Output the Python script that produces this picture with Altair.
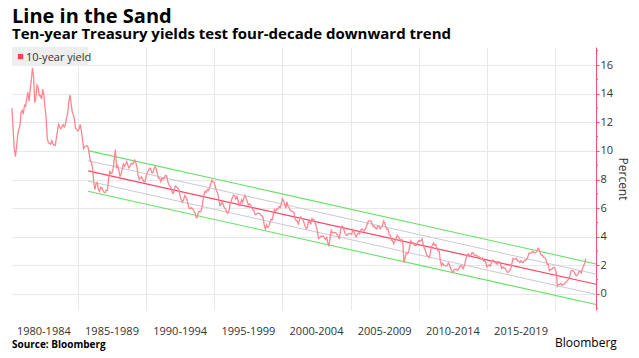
import altair as alt
import pandas as pd

# ---- 10-year Treasury yield, monthly (percent) ----
y1980 = [13.0, 11.47, 10.18, 9.60, 10.25, 11.10, 11.51, 11.75, 12.68, 12.84]  # from March
y1981 = [12.57, 13.19, 13.12, 13.68, 14.10, 13.47, 14.28, 14.94, 15.80, 15.15, 13.39, 13.72]
y1982 = [14.59, 14.43, 13.86, 13.87, 13.62, 14.30, 13.95, 13.06, 12.34, 10.91, 10.55, 10.54]
y1983 = [10.46, 10.72, 10.51, 10.40, 10.38, 10.85, 11.38, 11.85, 11.65, 11.54, 11.69, 11.83]
y1984 = [11.67, 11.84, 12.32, 12.63, 13.41, 13.90, 13.36, 12.72, 12.52, 12.16, 11.57, 11.50]
y1985 = [11.38, 11.51, 11.86, 11.43, 10.85, 10.16, 10.31, 10.33, 10.37, 10.24, 9.78, 9.26]
y1986 = [9.19, 8.70, 7.78, 7.30, 7.71, 7.80, 7.30, 7.17, 7.45, 7.43, 7.25, 7.11]
y1987 = [7.08, 7.25, 7.25, 8.02, 8.61, 8.40, 8.45, 8.76, 9.42, 10.10, 8.86, 8.99]
y1988 = [8.67, 8.21, 8.37, 8.72, 9.09, 8.92, 9.06, 9.26, 8.98, 8.80, 8.96, 9.11]
y1989 = [9.09, 9.17, 9.36, 9.18, 8.86, 8.28, 8.02, 8.11, 8.19, 8.01, 7.87, 7.84]
y1990 = [8.21, 8.47, 8.59, 8.79, 8.76, 8.48, 8.47, 8.75, 8.89, 8.72, 8.39, 8.08]
y1991 = [8.09, 7.85, 8.11, 8.04, 8.07, 8.28, 8.27, 7.90, 7.65, 7.53, 7.42, 7.09]
y1992 = [7.03, 7.34, 7.54, 7.48, 7.39, 7.26, 6.84, 6.59, 6.42, 6.59, 6.87, 6.77]
y1993 = [6.60, 6.26, 5.98, 5.97, 6.04, 5.96, 5.81, 5.68, 5.36, 5.33, 5.72, 5.77]
y1994 = [5.75, 5.97, 6.48, 6.97, 7.18, 7.10, 7.30, 7.24, 7.46, 7.74, 7.96, 7.81]
y1995 = [7.78, 7.47, 7.20, 7.06, 6.63, 6.17, 6.28, 6.49, 6.20, 6.04, 5.93, 5.71]
y1996 = [5.65, 5.81, 6.27, 6.51, 6.74, 6.91, 6.87, 6.64, 6.83, 6.53, 6.20, 6.30]
y1997 = [6.58, 6.42, 6.69, 6.89, 6.71, 6.49, 6.22, 6.30, 6.21, 6.03, 5.88, 5.81]
y1998 = [5.54, 5.57, 5.65, 5.64, 5.65, 5.50, 5.46, 5.34, 4.81, 4.53, 4.83, 4.65]
y1999 = [4.72, 5.00, 5.23, 5.18, 5.54, 5.90, 5.79, 5.94, 5.92, 6.11, 6.03, 6.28]
y2000 = [6.66, 6.52, 6.26, 5.99, 6.44, 6.10, 6.05, 5.83, 5.80, 5.74, 5.72, 5.24]
y2001 = [5.16, 5.10, 4.89, 5.14, 5.39, 5.28, 5.24, 4.97, 4.73, 4.57, 4.65, 5.09]
y2002 = [5.04, 4.91, 5.28, 5.21, 5.16, 4.93, 4.65, 4.26, 3.87, 3.94, 4.05, 4.03]
y2003 = [4.05, 3.90, 3.81, 3.96, 3.57, 3.33, 3.98, 4.45, 4.27, 4.29, 4.30, 4.27]
y2004 = [4.15, 4.08, 3.83, 4.35, 4.72, 4.73, 4.50, 4.28, 4.13, 4.10, 4.19, 4.23]
y2005 = [4.22, 4.17, 4.50, 4.34, 4.14, 4.00, 4.18, 4.26, 4.20, 4.46, 4.54, 4.47]
y2006 = [4.42, 4.57, 4.72, 4.99, 5.11, 5.11, 5.09, 4.88, 4.72, 4.73, 4.60, 4.56]
y2007 = [4.76, 4.72, 4.56, 4.69, 4.75, 5.10, 5.00, 4.67, 4.52, 4.53, 4.15, 4.10]
y2008 = [3.74, 3.74, 3.51, 3.68, 3.88, 4.10, 4.01, 3.89, 3.69, 3.81, 3.53, 2.20]
y2009 = [2.52, 2.87, 2.82, 2.93, 3.29, 3.72, 3.56, 3.59, 3.40, 3.39, 3.40, 3.59]
y2010 = [3.73, 3.69, 3.73, 3.85, 3.42, 3.20, 3.01, 2.70, 2.65, 2.54, 2.76, 3.29]
y2011 = [3.39, 3.58, 3.41, 3.46, 3.17, 3.00, 3.00, 2.30, 1.98, 2.15, 2.01, 1.98]
y2012 = [1.97, 1.97, 2.17, 2.05, 1.80, 1.62, 1.50, 1.68, 1.72, 1.75, 1.65, 1.72]
y2013 = [1.91, 1.98, 1.96, 1.76, 1.93, 2.30, 2.58, 2.74, 2.81, 2.62, 2.72, 2.90]
y2014 = [2.86, 2.71, 2.72, 2.71, 2.56, 2.60, 2.54, 2.42, 2.53, 2.30, 2.33, 2.21]
y2015 = [1.88, 1.98, 2.04, 1.94, 2.20, 2.36, 2.32, 2.17, 2.17, 2.07, 2.26, 2.24]
y2016 = [2.09, 1.78, 1.89, 1.81, 1.81, 1.64, 1.50, 1.56, 1.63, 1.76, 2.14, 2.49]
y2017 = [2.43, 2.42, 2.48, 2.30, 2.30, 2.19, 2.32, 2.21, 2.20, 2.36, 2.35, 2.40]
y2018 = [2.58, 2.86, 2.84, 2.87, 2.98, 2.91, 2.89, 2.89, 3.00, 3.20, 3.12, 2.83]
y2019 = [2.71, 2.68, 2.57, 2.53, 2.40, 2.07, 2.06, 1.63, 1.70, 1.71, 1.81, 1.86]
y2020 = [1.76, 1.50, 0.55, 0.66, 0.67, 0.73, 0.62, 0.65, 0.68, 0.79, 0.87, 0.93]
y2021 = [1.08, 1.26, 1.61, 1.64, 1.62, 1.52, 1.32, 1.28, 1.37, 1.58, 1.56, 1.47]
y2022 = [1.76, 1.93, 2.13, 2.48]

series = [
    (1980, 3, y1980), (1981, 1, y1981), (1982, 1, y1982), (1983, 1, y1983),
    (1984, 1, y1984), (1985, 1, y1985), (1986, 1, y1986), (1987, 1, y1987),
    (1988, 1, y1988), (1989, 1, y1989), (1990, 1, y1990), (1991, 1, y1991),
    (1992, 1, y1992), (1993, 1, y1993), (1994, 1, y1994), (1995, 1, y1995),
    (1996, 1, y1996), (1997, 1, y1997), (1998, 1, y1998), (1999, 1, y1999),
    (2000, 1, y2000), (2001, 1, y2001), (2002, 1, y2002), (2003, 1, y2003),
    (2004, 1, y2004), (2005, 1, y2005), (2006, 1, y2006), (2007, 1, y2007),
    (2008, 1, y2008), (2009, 1, y2009), (2010, 1, y2010), (2011, 1, y2011),
    (2012, 1, y2012), (2013, 1, y2013), (2014, 1, y2014), (2015, 1, y2015),
    (2016, 1, y2016), (2017, 1, y2017), (2018, 1, y2018), (2019, 1, y2019),
    (2020, 1, y2020), (2021, 1, y2021), (2022, 1, y2022),
]

# ---- trend channel (endpoints) ----
channel_years = [1985.75, 2023.0]
upper_band = [10.02, 2.10]
upper_mid = [9.31, 1.39]
trend = [8.60, 0.68]
lower_mid = [7.89, -0.03]
lower_band = [7.18, -0.74]

# ---- axis labels ----
period_labels = ["1980-1984", "1985-1989", "1990-1994", "1995-1999",
                 "2000-2004", "2005-2009", "2010-2014", "2015-2019"]
period_centers = [1982.5, 1987.5, 1992.5, 1997.5, 2002.5, 2007.5, 2012.5, 2017.5]
grid_years = [1985, 1990, 1995, 2000, 2005, 2010, 2015, 2020]
y_ticks = [0, 2, 4, 6, 8, 10, 12, 14, 16]
y_minor = [-1, 1, 3, 5, 7, 9, 11, 13, 15, 17]

rows = []
for yr, m0, vals in series:
    for i, v in enumerate(vals):
        rows.append({"t": yr + (m0 - 1 + i) / 12.0, "v": v})
df = pd.DataFrame(rows)

ch_rows = []
for name, vals in [("ug", upper_band), ("um", upper_mid), ("tr", trend),
                   ("lm", lower_mid), ("lg", lower_band)]:
    for t, v in zip(channel_years, vals):
        ch_rows.append({"line": name, "t": t, "v": v})
ch = pd.DataFrame(ch_rows)

FONT = "Open Sans"
RED_AXIS = "#ff4f6a"

x_enc = alt.X("t:Q",
              scale=alt.Scale(domain=[1980.1667, 2023.0], nice=False, zero=False),
              axis=alt.Axis(values=grid_years, labels=False, ticks=False,
                            domain=False, grid=True, gridColor="#e8e8e8",
                            title=None))
y_enc = alt.Y("v:Q",
              scale=alt.Scale(domain=[-1.12, 17.26], nice=False, zero=False),
              axis=alt.Axis(orient="right", values=y_ticks, grid=True,
                            gridColor="#e8e8e8", domainColor=RED_AXIS,
                            tickColor=RED_AXIS, tickSize=3, labelPadding=1,
                            labelOverlap=False, labelFlush=False,
                            labelFont=FONT, labelFontSize=11, labelColor="#333333",
                            title="Percent", titleFont=FONT, titleFontSize=12,
                            titleFontWeight="normal", titleColor="#333333",
                            titlePadding=3))

one = pd.DataFrame({"a": [0]})

grid_layer = alt.Chart(df).mark_line(opacity=0).encode(x=x_enc, y=y_enc)

green = alt.Chart(ch[ch["line"].isin(["ug", "lg"])]).mark_line(
    color="#66e066", strokeWidth=1.1).encode(x=x_enc, y=y_enc, detail="line:N")
gray = alt.Chart(ch[ch["line"].isin(["um", "lm"])]).mark_line(
    color="#c9c9d6", strokeWidth=1).encode(x=x_enc, y=y_enc, detail="line:N")
mid = alt.Chart(ch[ch["line"] == "tr"]).mark_line(
    color="#ff4466", strokeWidth=1.2).encode(x=x_enc, y=y_enc)

yield_line = alt.Chart(df).mark_line(
    color="#ff8690", strokeWidth=1.3).encode(x=x_enc, y=y_enc)

minor = alt.Chart(pd.DataFrame({"v": y_minor})).mark_rule(
    color=RED_AXIS, strokeWidth=1).encode(
    y=y_enc, x=alt.value(584), x2=alt.value(586))

period_text = alt.Chart(pd.DataFrame({"t": period_centers, "lab": period_labels})).mark_text(
    font=FONT, fontSize=11, color="#333333", align="center", baseline="alphabetic"
).encode(x=x_enc, y=alt.value(288), text="lab:N")

legend_box = alt.Chart(one).mark_rect(color="#eeeeee").encode(
    x=alt.value(0), x2=alt.value(76), y=alt.value(0), y2=alt.value(19))
legend_sym = alt.Chart(one).mark_point(shape="square", filled=True, size=28,
                                       color="#ff4052", opacity=1).encode(
    x=alt.value(8.5), y=alt.value(9.5))
legend_txt = alt.Chart(one).mark_text(text="10-year yield", font=FONT, fontSize=11,
                                      color="#333333", align="left",
                                      baseline="alphabetic").encode(
    x=alt.value(14), y=alt.value(14))

title = alt.Chart(one).mark_text(text="Line in the Sand", font=FONT, fontSize=20,
                                 fontWeight="bold", color="#000000", align="left",
                                 baseline="alphabetic").encode(
    x=alt.value(0), y=alt.value(-24))
subtitle = alt.Chart(one).mark_text(
    text="Ten-year Treasury yields test four-decade downward trend", font=FONT,
    fontSize=15, fontWeight="bold", color="#000000", align="left",
    baseline="alphabetic").encode(x=alt.value(0), y=alt.value(-8))
source = alt.Chart(one).mark_text(text="Source: Bloomberg", font=FONT, fontSize=10,
                                  fontWeight="bold", color="#000000", align="left",
                                  baseline="alphabetic").encode(
    x=alt.value(0), y=alt.value(301))
brand = alt.Chart(one).mark_text(text="Bloomberg", font=FONT, fontSize=12,
                                 color="#000000", align="left",
                                 baseline="alphabetic").encode(
    x=alt.value(543), y=alt.value(300))

chart = alt.layer(
    grid_layer, gray, green, mid, yield_line, minor, period_text,
    legend_box, legend_sym, legend_txt, title, subtitle, source, brand
).properties(
    width=584, height=263,
    autosize=alt.AutoSizeParams(type="none"),
    padding={"left": 4, "top": 39, "right": 35, "bottom": 43},
).configure_view(stroke=None).configure_axis(domainWidth=1)

chart.save("out.html", embed_options={"renderer": "svg", "actions": False})
